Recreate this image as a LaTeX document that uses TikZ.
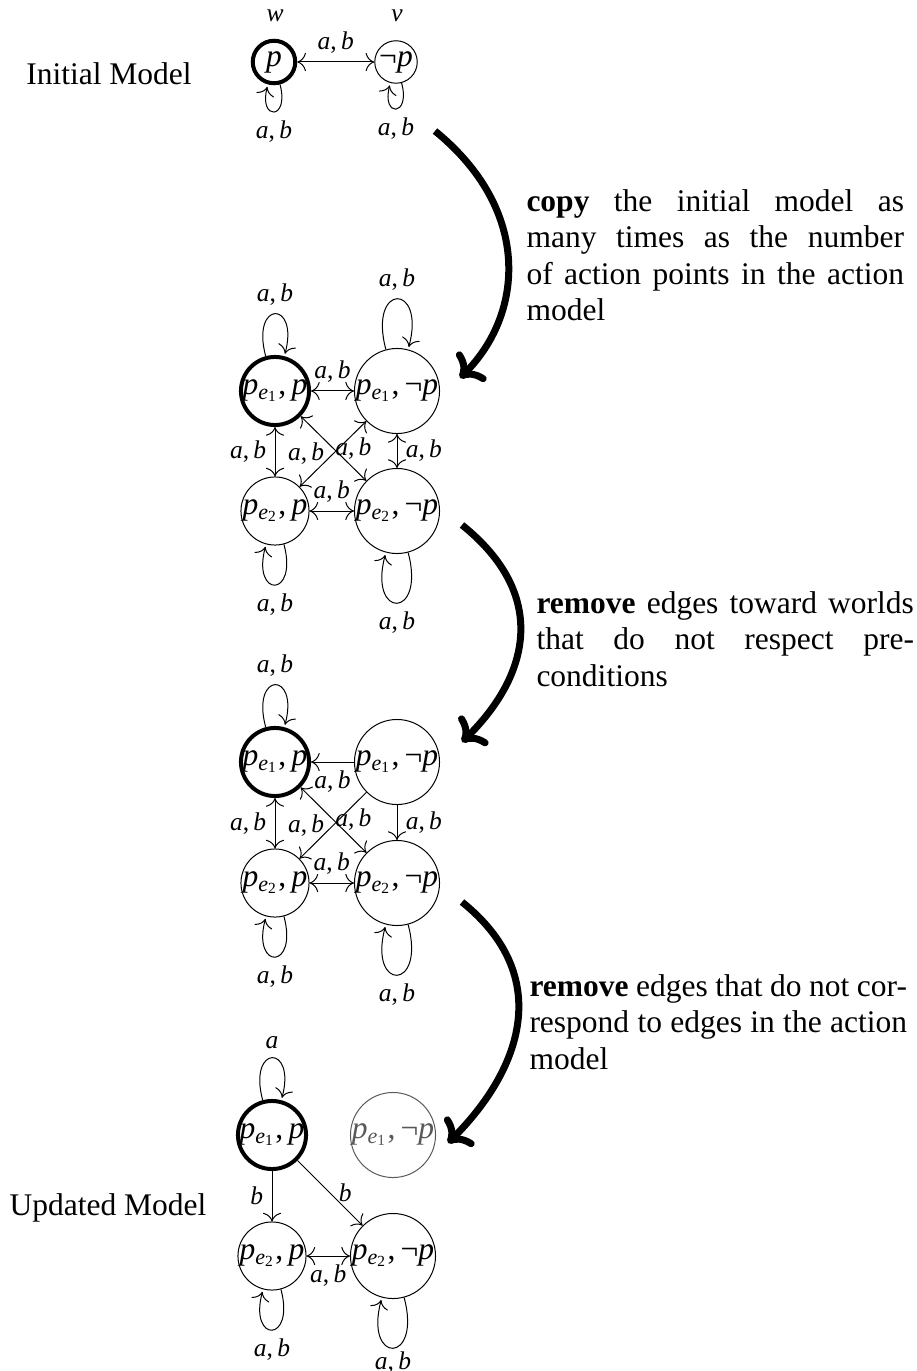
\documentclass[tikz,border=0pt]{standalone}
\usepackage{fontspec}
\setmainfont{Liberation Serif}
\usetikzlibrary{arrows.meta}
\newcommand{\ab}{\textit{a},\,\textit{b}}
\newcommand{\pe}[1]{\textit{p}\textsubscript{\textit{e}\textsubscript{#1}}}
\newcommand{\negp}{¬\textit{p}}
\begin{document}
\begin{tikzpicture}[x=0.4pt, y=-0.4pt,
  font=\fontsize{12.6pt}{14.6pt}\selectfont,
  >={To[scale=1.4]},
  world/.style={circle, draw, inner sep=0pt, minimum size=17pt},
  actual/.style={world, line width=1.6pt},
  faded/.style={world, draw=black!65, text=black!65},
  lab/.style={font=\fontsize{10.2pt}{12pt}\selectfont},
  bigarrow/.style={-{To}, line width=2.8pt},
  desc/.style={text width=151pt, align=justify, inner sep=0pt, anchor=north west}]
\useasboundingbox (0,0) rectangle (916,1371);

% ---------- Initial model ----------
\node (init) at (109,74) {Initial Model};
\node[actual] (w) at (274,62) {\textit{p}};
\node[world] (v) at (396,62) {\negp};
\node[lab] (lw) at (275,16) {\textit{w}};
\node[lab] (lv) at (397,16) {\textit{v}};
\draw[<->] (w) -- node[lab, above] {\ab} (v);
\path[->] (w) edge[loop below] node[lab] {\ab} ();
\path[->] (v) edge[loop below] node[lab] {\ab} ();

% ---------- Graph 1 ----------
\node[actual] (A1) at (275,391) {\pe{1},\,\textit{p}};
\node[world] (B1) at (397,391) {\pe{1},\,\negp};
\node[world] (C1) at (275,511) {\pe{2},\,\textit{p}};
\node[world] (D1) at (397,511) {\pe{2},\,\negp};
\path[->] (A1) edge[loop above] node[lab] {\ab} ();
\path[->] (B1) edge[loop above] node[lab] {\ab} ();
\path[->] (C1) edge[loop below] node[lab] {\ab} ();
\path[->] (D1) edge[loop below] node[lab] {\ab} ();
\draw[<->] (A1) -- node[lab, above] {\ab} (B1);
\draw[<->] (C1) -- node[lab, above] {\ab} (D1);
\draw[<->] (A1) -- node[lab, left] {\ab} (C1);
\draw[<->] (B1) -- node[lab, right] {\ab} (D1);
\draw[<->] (B1) -- node[lab, pos=0.5, left] {\ab} (C1);
\draw[<->] (A1) -- node[lab, pos=0.5, anchor=west, inner sep=0.5pt] {\ab} (D1);

% ---------- Graph 2 ----------
\node[actual] (A2) at (275,762) {\pe{1},\,\textit{p}};
\node[world] (B2) at (397,762) {\pe{1},\,\negp};
\node[world] (C2) at (275,883) {\pe{2},\,\textit{p}};
\node[world] (D2) at (397,883) {\pe{2},\,\negp};
\path[->] (A2) edge[loop above] node[lab] {\ab} ();
\path[->] (C2) edge[loop below] node[lab] {\ab} ();
\path[->] (D2) edge[loop below] node[lab] {\ab} ();
\draw[->] (B2) -- node[lab, below] {\ab} (A2);
\draw[<->] (C2) -- node[lab, above] {\ab} (D2);
\draw[<->] (A2) -- node[lab, left] {\ab} (C2);
\draw[->] (B2) -- node[lab, right] {\ab} (D2);
\draw[->] (B2) -- node[lab, pos=0.5, left] {\ab} (C2);
\draw[<->] (A2) -- node[lab, pos=0.5, anchor=west, inner sep=0.5pt] {\ab} (D2);

% ---------- Updated model ----------
\node (upd) at (108,1208) {Updated Model};
\node[actual] (A3) at (272,1135) {\pe{1},\,\textit{p}};
\node[faded] (B3) at (393,1135) {\pe{1},\,\negp};
\node[world] (C3) at (272,1256) {\pe{2},\,\textit{p}};
\node[world] (D3) at (393,1256) {\pe{2},\,\negp};
\path[->] (A3) edge[loop above] node[lab] {\textit{a}} ();
\path[->] (C3) edge[loop below] node[lab] {\ab} ();
\path[->] (D3) edge[loop below] node[lab, inner sep=1.2pt] {\ab} ();
\draw[->] (A3) -- node[lab, left] {\textit{b}} (C3);
\draw[->] (A3) -- node[lab, right] {\textit{b}} (D3);
\draw[<->] (C3) -- node[lab, below] {\ab} (D3);

% ---------- Big transition arrows ----------
\coordinate (s1) at (435,131);
\coordinate (e1) at (460,378);
\draw[bigarrow] (s1) .. controls (532,210) and (524,314) .. (e1);
\coordinate (s2) at (462,525);
\coordinate (e2) at (462,742);
\draw[bigarrow] (s2) .. controls (548,594) and (531,674) .. (e2);
\coordinate (s3) at (462,902);
\coordinate (e3) at (448,1143);
\draw[bigarrow] (s3) .. controls (554,976) and (522,1069) .. (e3);

% ---------- Descriptions ----------
\node[desc] (t1) at (526,189) {\textbf{copy} the initial model as\linebreak many times as the number\linebreak of action points in the action\linebreak model};
\node[desc] (t2) at (536,591) {\textbf{remove} edges toward worlds\linebreak that do not respect pre-\linebreak conditions};
\node[desc] (t3) at (529,974) {\textbf{remove} edges that do not cor-\linebreak respond to edges in the action\linebreak model};
\end{tikzpicture}
\end{document}
